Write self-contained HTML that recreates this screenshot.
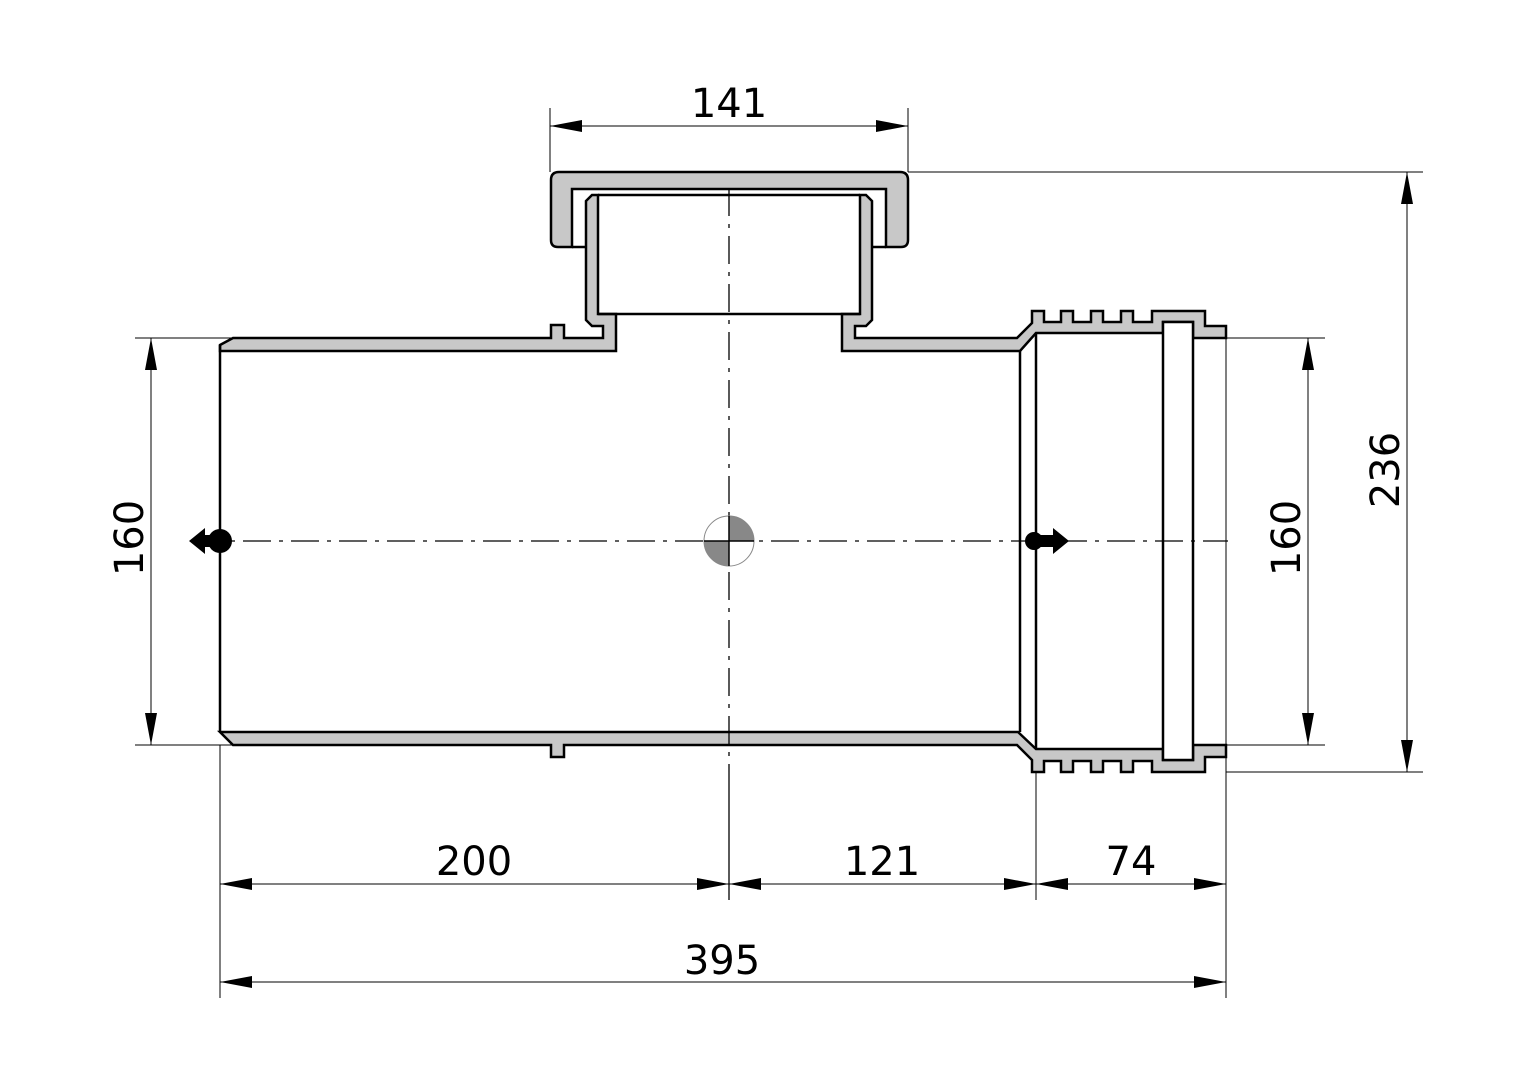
<!DOCTYPE html>
<html><head><meta charset="utf-8"><style>
html,body{margin:0;padding:0;background:#fff}
svg{display:block}
text{font-family:"DejaVu Sans","Liberation Sans",sans-serif;font-size:40px;fill:#000}
</style></head><body>
<svg width="1528" height="1080" viewBox="0 0 1528 1080" xmlns="http://www.w3.org/2000/svg">
<defs>
<marker id="a" viewBox="0 0 32 12" refX="32" refY="6" markerWidth="32" markerHeight="12" markerUnits="userSpaceOnUse" orient="auto-start-reverse"><path d="M0,0 L32,6 L0,12 Z" fill="#000"/></marker>
</defs>
<g fill="#c8c8c8" stroke="#000" stroke-width="2.5" stroke-linejoin="miter">
<path d="M551,180 Q551,172 559,172 L900,172 Q908,172 908,180 L908,240 Q908,247 901,247 L886,247 L886,189 L572,189 L572,247 L558,247 Q551,247 551,240 Z"/>
<path d="M220,345 L233,338 L551,338 L551,325 L564,325 L564,338 L603,338 L603,326 L592,326 L586,320 L586,201 L592,195 L598,195 L598,314 L616,314 L616,351 L220,351 Z"/>
<path d="M842,351 L842,314 L860,314 L860,195 L866,195 L872,201 L872,320 L866,326 L855,326 L855,338 L1017,338 L1032,323 L1032,311 L1044,311 L1044,322 L1061,322 L1061,311 L1073,311 L1073,322 L1091,322 L1091,311 L1103,311 L1103,322 L1121,322 L1121,311 L1133,311 L1133,322 L1152,322 L1152,311 L1205,311 L1205,326 L1226,326 L1226,338 L1193,338 L1193,322 L1163,322 L1163,333 L1036,333 L1020,351 Z"/>
<path d="M220,732 L1018,732 L1036,749 L1163,749 L1163,760 L1193,760 L1193,745 L1226,745 L1226,757 L1205,757 L1205,772 L1152,772 L1152,761 L1133,761 L1133,772 L1121,772 L1121,761 L1103,761 L1103,772 L1091,772 L1091,761 L1073,761 L1073,772 L1061,772 L1061,761 L1044,761 L1044,772 L1032,772 L1032,760 L1017,745 L564,745 L564,757 L551,757 L551,745 L233,745 Z"/>
</g>
<g stroke="#000" stroke-width="2.5" fill="none">
<line x1="220" y1="345" x2="220" y2="732"/>
<line x1="1020" y1="351" x2="1020" y2="732"/>
<line x1="1036" y1="333" x2="1036" y2="749"/>
<rect x="1163" y="322" width="30" height="438" fill="#fff"/>
<line x1="598" y1="314" x2="860" y2="314"/>
<line x1="598" y1="195" x2="860" y2="195"/>
<line x1="572" y1="247" x2="586" y2="247"/>
<line x1="872" y1="247" x2="886" y2="247"/>
</g>
<g stroke="#000" stroke-width="1.3" fill="none">
<line x1="195" y1="541" x2="1228" y2="541" stroke-dasharray="28,8,4,8"/>
<line x1="729" y1="188" x2="729" y2="772" stroke-dasharray="28,8,4,8"/>
<line x1="729" y1="772" x2="729" y2="900"/>
</g>
<circle cx="729" cy="541" r="25" fill="#fff" stroke="#888" stroke-width="1"/>
<path d="M729,541 L729,516 A25,25 0 0 1 754,541 Z" fill="#888"/>
<path d="M729,541 L729,566 A25,25 0 0 1 704,541 Z" fill="#888"/>
<line x1="704" y1="541" x2="754" y2="541" stroke="#000" stroke-width="1.5"/>
<line x1="729" y1="516" x2="729" y2="566" stroke="#000" stroke-width="1.5"/>
<circle cx="220" cy="541" r="12" fill="#000"/>
<path d="M220,535 L205,535 L205,528 L189,541 L205,554 L205,547 L220,547 Z" fill="#000"/>
<circle cx="1034" cy="541" r="9" fill="#000"/>
<path d="M1034,535 L1053,535 L1053,528 L1069,541 L1053,554 L1053,547 L1034,547 Z" fill="#000"/>
<g stroke="#000" stroke-width="1">
<line x1="550" y1="108" x2="550" y2="172"/>
<line x1="908" y1="108" x2="908" y2="172"/>
<line x1="908" y1="172" x2="1423" y2="172"/>
<line x1="1226" y1="772" x2="1423" y2="772"/>
<line x1="1226" y1="338" x2="1325" y2="338"/>
<line x1="1226" y1="745" x2="1325" y2="745"/>
<line x1="135" y1="338" x2="233" y2="338"/>
<line x1="135" y1="745" x2="233" y2="745"/>
<line x1="220" y1="745" x2="220" y2="998"/>
<line x1="1036" y1="772" x2="1036" y2="900"/>
<line x1="1226" y1="757" x2="1226" y2="998"/>
<line x1="1226" y1="326" x2="1226" y2="757"/>
</g>
<g stroke="#000" stroke-width="1" marker-start="url(#a)" marker-end="url(#a)">
<line x1="550" y1="126" x2="908" y2="126"/>
<line x1="1407" y1="172" x2="1407" y2="772"/>
<line x1="1308" y1="338" x2="1308" y2="745"/>
<line x1="151" y1="338" x2="151" y2="745"/>
<line x1="220" y1="884" x2="729" y2="884"/>
<line x1="729" y1="884" x2="1036" y2="884"/>
<line x1="1036" y1="884" x2="1226" y2="884"/>
<line x1="220" y1="982" x2="1226" y2="982"/>
</g>
<g text-anchor="middle">
<text x="729" y="117">141</text>
<text x="474" y="875">200</text>
<text x="882" y="875">121</text>
<text x="1131" y="875">74</text>
<text x="722" y="974">395</text>
<text transform="translate(1399,470) rotate(-90)">236</text>
<text transform="translate(1300,538) rotate(-90)">160</text>
<text transform="translate(143,538) rotate(-90)">160</text>
</g>
</svg>
</body></html>
